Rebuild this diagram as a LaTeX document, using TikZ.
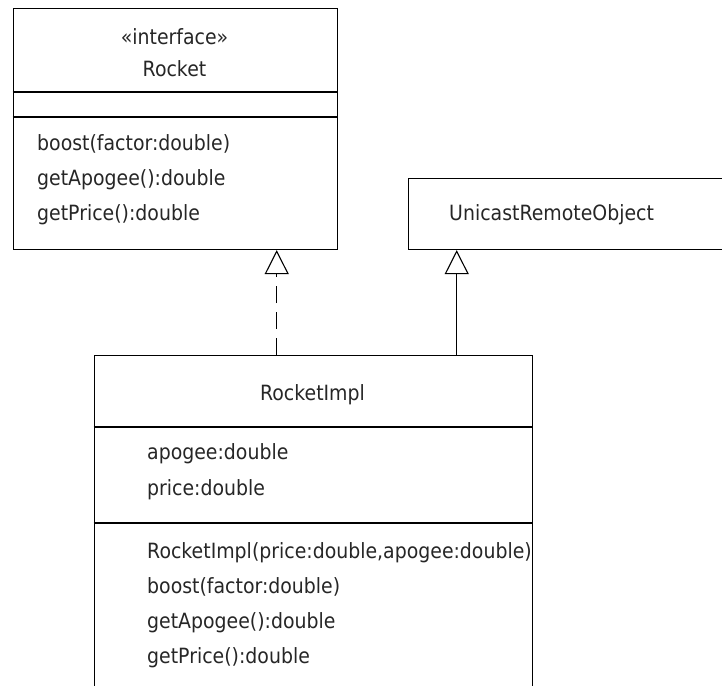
\documentclass[tikz,border=0pt]{standalone}
\usepackage{fontspec}
\setmainfont{DejaVu Sans}[FakeStretch=0.9]
\usetikzlibrary{arrows.meta}
\begin{document}
\begin{tikzpicture}[x=1pt, y=-1pt,
        umlbox/.style={draw, line width=1.1pt, inner sep=0pt, anchor=north west},
        umltext/.style={font=\fontsize{21}{25}\selectfont, inner sep=0pt, text=black!85},
        sepline/.style={line width=1.1pt},
        inherit/.style={line width=1.1pt, -{Triangle[open, length=24pt, width=24pt, line width=1.1pt]}}]
        \clip (0,0) rectangle (722,685);

        % Interface Rocket
        \node[umlbox, minimum width=324pt, minimum height=241pt] (rocket) at (12.5,8) {};
        \draw[sepline] (rocket.west |- 0,92) -- (rocket.east |- 0,92);
        \draw[sepline] (rocket.west |- 0,117) -- (rocket.east |- 0,117);
        \node[umltext, anchor=base] (stereo) at (174.5,45) {«interface»};
        \node[umltext, anchor=base] (rname) at (174.5,76) {Rocket};
        \node[umltext, anchor=base west] (rboost) at (37,150) {boost(factor:double)};
        \node[umltext, anchor=base west] (rapogee) at (37,185) {getApogee():double};
        \node[umltext, anchor=base west] (rprice) at (37,220) {getPrice():double};

        % Superclass UnicastRemoteObject (runs off the right edge)
        \node[umlbox, minimum width=360pt, minimum height=71pt] (unicast) at (408,178) {};
        \node[umltext, anchor=base west] (uname) at (449,220) {UnicastRemoteObject};

        % Class RocketImpl (runs off the bottom edge)
        \node[umlbox, minimum width=438.5pt, minimum height=360pt] (impl) at (93.5,355) {};
        \draw[sepline] (impl.west |- 0,427) -- (impl.east |- 0,427);
        \draw[sepline] (impl.west |- 0,523) -- (impl.east |- 0,523);
        \node[umltext, anchor=base] (iname) at (312.5,400) {RocketImpl};
        \node[umltext, anchor=base west] (iapogee) at (147,459) {apogee:double};
        \node[umltext, anchor=base west] (iprice) at (147,495) {price:double};
        \node[umltext, anchor=base west] (ictor) at (147,558) {RocketImpl(price:double,apogee:double)};
        \node[umltext, anchor=base west] (iboost) at (147,593) {boost(factor:double)};
        \node[umltext, anchor=base west] (igetapogee) at (147,628) {getApogee():double};
        \node[umltext, anchor=base west] (igetprice) at (147,663) {getPrice():double};

        % Realization (dashed) and generalization (solid)
        \coordinate (realfoot) at (276.7,355);
        \coordinate (genfoot) at (456.7,355);
        \draw[inherit, dash pattern=on 17pt off 9pt] (realfoot) -- (realfoot |- rocket.south);
        \draw[inherit] (genfoot) -- (genfoot |- unicast.south);
    \end{tikzpicture}
\end{document}
